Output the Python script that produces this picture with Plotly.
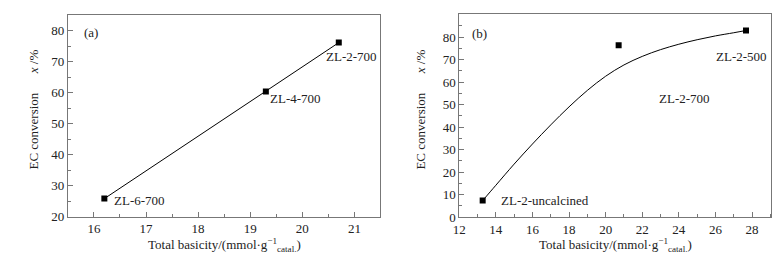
import plotly.graph_objects as go

# Panel (a)
a_basicity = [16.2, 19.3, 20.7]
a_conversion = [25.8, 60.4, 76.2]
a_labels = ["ZL-6-700", "ZL-4-700", "ZL-2-700"]
a_label_x = [16.87, 19.86, 20.94]
a_label_y = [25.1, 58.3, 71.8]

# Panel (b)
b_basicity = [13.28, 20.71, 27.67]
b_conversion = [7.4, 76.4, 82.9]
b_labels = ["ZL-2-uncalcined", "ZL-2-700", "ZL-2-500"]
b_label_x = [16.71, 24.33, 27.42]
b_label_y = [7.3, 52.9, 71.4]
# fitted curve
b_fit_x = [13.28, 14, 15, 16, 17, 18, 19, 20, 21, 22, 23, 24, 25, 26, 27, 27.67]
b_fit_y = [7.4, 14.2, 23.6, 32.5, 41.0, 49.0, 56.3, 62.6, 67.6, 71.4, 74.4, 76.8, 78.8, 80.5, 81.9, 82.9]

a_xticks = [16, 17, 18, 19, 20, 21]
a_yticks = [20, 30, 40, 50, 60, 70, 80]
b_xticks = [12, 14, 16, 18, 20, 22, 24, 26, 28]
b_yticks = [0, 10, 20, 30, 40, 50, 60, 70, 80, 90]

FONT = "Liberation Serif"
AXC = "#777777"
W, H = 781, 256

fig = go.Figure()
fig.add_trace(go.Scatter(x=a_basicity, y=a_conversion, mode="lines+markers",
                         line=dict(color="black", width=1),
                         marker=dict(symbol="square", size=6, color="black"),
                         xaxis="x", yaxis="y", showlegend=False))
fig.add_trace(go.Scatter(x=b_fit_x, y=b_fit_y, mode="lines",
                         line=dict(color="black", width=1, shape="spline", smoothing=1),
                         xaxis="x2", yaxis="y2", showlegend=False))
fig.add_trace(go.Scatter(x=b_basicity, y=b_conversion, mode="markers",
                         marker=dict(symbol="square", size=6, color="black"),
                         xaxis="x2", yaxis="y2", showlegend=False))

def ax(rng, ticks, dom, anchor, minor_dtick):
    return dict(range=rng, tickvals=ticks, domain=dom, anchor=anchor,
                showgrid=False, zeroline=False, showline=True, linecolor=AXC,
                linewidth=1, mirror=True, ticks="inside", ticklen=5,
                tickcolor=AXC, tickfont=dict(family=FONT, size=13, color="#222"),
                minor=dict(ticks="inside", ticklen=3, tickcolor=AXC, dtick=minor_dtick))

fig.update_layout(
    width=W, height=H, margin=dict(l=0, r=0, t=0, b=0),
    plot_bgcolor="white", paper_bgcolor="white",
    xaxis=ax([15.5, 21.5], a_xticks, [54.3 / W, 369.3 / W], "y", 0.5),
    yaxis=ax([20, 85.1], a_yticks, [1 - 215.3 / H, 1 - 7.3 / H], "x", 5),
    xaxis2=ax([12, 29.06], b_xticks, [448.7 / W, 763.3 / W], "y2", 1),
    yaxis2=ax([0, 90], b_yticks, [1 - 216 / H, 1 - 6.7 / H], "x2", 5),
)

ann = []
tf = dict(family=FONT, size=13, color="#222")
for xs, ys, ls, xr, yr in [(a_label_x, a_label_y, a_labels, "x", "y"),
                           (b_label_x, b_label_y, b_labels, "x2", "y2")]:
    for x, y, t in zip(xs, ys, ls):
        ann.append(dict(x=x, y=y, xref=xr, yref=yr, text=t, showarrow=False, font=tf))
ann.append(dict(x=15.94, y=79.6, xref="x", yref="y", text="(a)", showarrow=False, font=tf))
ann.append(dict(x=13.1, y=81.7, xref="x2", yref="y2", text="(b)", showarrow=False, font=tf))

ytitle = "EC conversion\u00a0\u00a0\u00a0\u00a0\u00a0\u00a0<i>x</i> /%"
xtitle = "Total basicity/(mmol·g<sup>\u22121</sup><sub>catal.</sub>)"
for xc, yc in [(20, 105), (410, 105)]:
    ann.append(dict(x=xc / W, y=1 - yc / H, xref="paper", yref="paper", text=ytitle,
                    textangle=-90, showarrow=False, font=tf,
                    xanchor="center", yanchor="middle"))
for xc in [212, 606]:
    ann.append(dict(x=xc / W, y=1 - 245 / H, xref="paper", yref="paper", text=xtitle,
                    showarrow=False, font=tf, xanchor="center", yanchor="middle"))
fig.update_layout(annotations=ann)

fig.write_html("out.html")
